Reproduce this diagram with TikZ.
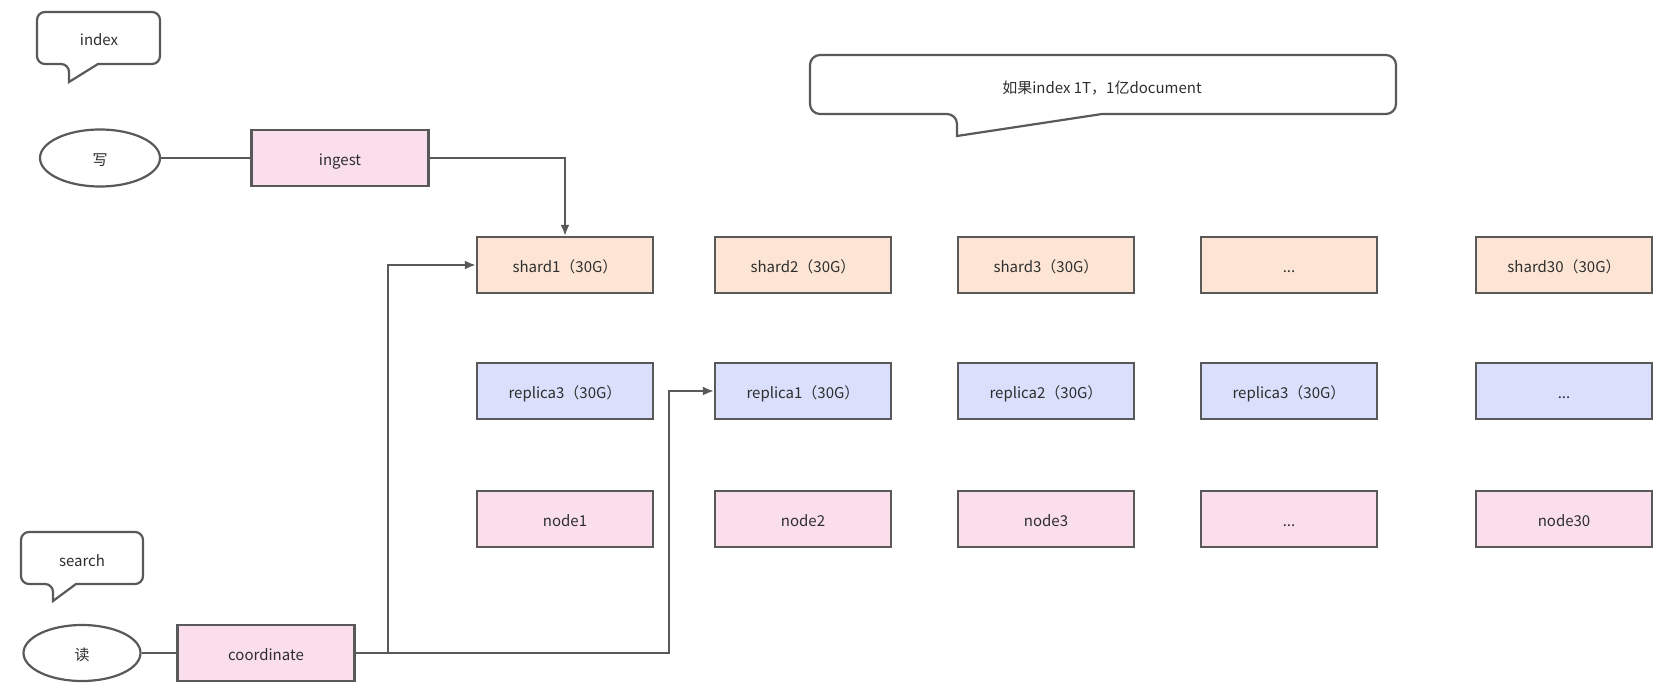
\documentclass[tikz,border=0pt]{standalone}
\usepackage{fontspec}
\setmainfont{Noto Sans CJK SC}
\usepackage{xcolor}
\usepackage{tikz}
\usetikzlibrary{arrows.meta,calc,positioning,shapes.geometric}
\definecolor{edgegray}{HTML}{595959}
\definecolor{textgray}{HTML}{2E2E2E}
\definecolor{shardfill}{HTML}{FDE5D5}
\definecolor{replicafill}{HTML}{DADFFC}
\definecolor{nodefill}{HTML}{FBDEEC}
\newcommand{\etc}{...}
\tikzset{
  label text/.style={text=textgray,text height=14pt,text depth=0pt,font=\fontsize{15pt}{18pt}\selectfont},
  box/.style={draw=edgegray,line width=2.2pt,minimum width=176pt,minimum height=56pt,inner sep=0pt,label text},
  shardbox/.style={box,fill=shardfill},
  replicabox/.style={box,fill=replicafill},
  hostbox/.style={box,fill=nodefill},
  oval/.style={ellipse,draw=edgegray,line width=2.2pt,fill=white,inner sep=0pt,label text},
  note/.style={draw=edgegray,line width=2.2pt,fill=white},
  notetext/.style={inner sep=0pt,label text},
  link/.style={edgegray,line width=2.2pt},
  arrowlink/.style={link,-{Latex[length=11pt,width=9pt]}}
}
\begin{document}
\begin{tikzpicture}[x=1pt,y=-1pt]
\useasboundingbox (0,0) rectangle (1661,688);
% callouts
\draw[note] (98,64) [rounded corners=8pt] -- (160,64) -- (160,12) -- (37,12) -- (37,64) -- (69,64) [sharp corners] -- (69,82) -- cycle;
\node[notetext] (indexnote) at (99,38) {index};
\draw[note] (1102,114) [rounded corners=10pt] -- (1396,114) -- (1396,55) -- (810,55) -- (810,114) -- (957,114) [sharp corners] -- (957,136) -- cycle;
\node[notetext] (sizenote) at (1102,86) {如果index 1T，1亿document};
\draw[note] (76,584) [rounded corners=8pt] -- (143,584) -- (143,532) -- (21,532) -- (21,584) -- (53,584) [sharp corners] -- (53,601) -- cycle;
\node[notetext] (searchnote) at (82,559) {search};
% write path
\node[oval,minimum width=120pt,minimum height=57pt] (write) at (100,158) {写};
\node[hostbox,minimum width=177pt] (ingest) at (340,158) {ingest};
% grid of shards, replicas, nodes
\foreach \i/\x/\s/\r/\n in {1/565/shard1（30G）/replica3（30G）/node1,
                            2/803/shard2（30G）/replica1（30G）/node2,
                            3/1046/shard3（30G）/replica2（30G）/node3,
                            4/1289/\etc/replica3（30G）/\etc,
                            5/1564/shard30（30G）/\etc/node30}{
  \node[shardbox] (s\i) at (\x,265) {\s};
  \node[replicabox] (r\i) at (\x,391) {\r};
  \node[hostbox] (n\i) at (\x,519) {\n};
}
% read path
\node[oval,minimum width=117pt,minimum height=56pt] (read) at (82,653) {读};
\node[hostbox,minimum width=177pt] (coord) at (266,653) {coordinate};
\coordinate (split) at (388,653);
\coordinate (turn) at (669,653);
% connectors
\draw[link] (write) -- (ingest);
\draw[arrowlink] (ingest.east) -| (s1.north);
\draw[link] (read) -- (coord);
\draw[link] (coord.east) -- (split);
\draw[arrowlink] (split) |- (s1.west);
\draw[arrowlink] (split) -- (turn) |- (r2.west);
\end{tikzpicture}
\end{document}
